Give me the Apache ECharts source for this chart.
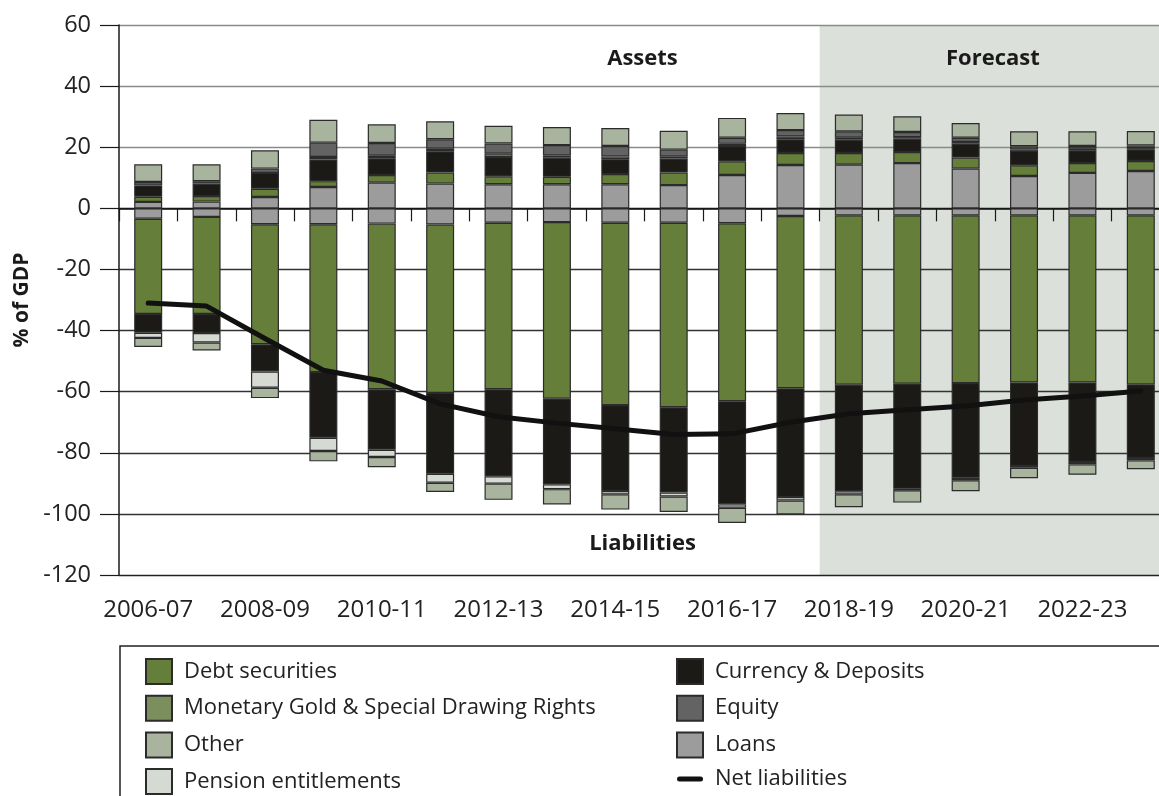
<!DOCTYPE html>
<html><head><meta charset="utf-8">
<script src="https://cdn.jsdelivr.net/npm/echarts@6/dist/echarts.min.js"></script>
<style>html,body{margin:0;padding:0;background:#fff;overflow:hidden}#c{width:1170px;height:796px}</style>
</head><body><div id="c"></div>
<script>
// ---------- data ----------
const categories = ['2006-07','2007-08','2008-09','2009-10','2010-11','2011-12','2012-13','2013-14','2014-15','2015-16','2016-17','2017-18','2018-19','2019-20','2020-21','2021-22','2022-23','2023-24'];
const forecastStart = '2018-19';
const yMin = -120, yMax = 60, yInterval = 20;

// Assets (positive)
const loansAssets    = [2.1, 2.2, 3.7, 7.0, 8.4, 8.1, 7.9, 7.9, 7.9, 7.6, 10.9, 14.2, 14.3, 14.8, 13.0, 10.6, 11.6, 12.2];
const debtAssets     = [1.7, 1.8, 2.7, 1.9, 2.5, 3.6, 2.6, 2.4, 3.3, 4.1, 4.5, 3.9, 3.8, 3.6, 3.6, 3.5, 3.2, 3.3];
const currencyAssets = [3.7, 4.1, 5.2, 7.1, 5.5, 7.0, 6.3, 6.3, 4.9, 4.6, 5.0, 4.5, 4.4, 4.4, 4.6, 4.7, 4.2, 3.8];
const goldAssets     = [null, null, null, 0.8, 0.8, 0.8, 1.1, 0.7, 0.9, 0.7, 0.7, 0.9, 0.6, 0.5, 0.5, 0.5, 0.5, 0.4];
const equityAssets   = [1.1, 0.8, 1.4, 4.7, 4.2, 3.1, 3.3, 3.4, 3.4, 2.2, 2.0, 2.1, 2.1, 1.7, 1.4, 1.0, 0.9, 0.9];
const otherAssets    = [5.8, 5.5, 6.0, 7.5, 6.1, 5.9, 5.8, 5.9, 5.9, 6.2, 6.5, 5.6, 5.5, 5.1, 4.8, 4.9, 4.8, 4.7];

// Liabilities (negative)
const loansLiab    = [-3.4, -2.8, -5.2, -5.2, -5.0, -5.3, -4.7, -4.5, -4.7, -4.7, -4.9, -2.5, -2.3, -2.3, -2.3, -2.3, -2.3, -2.3];
const debtLiab     = [-31.2, -31.8, -39.3, -48.4, -54.2, -55.1, -54.5, -57.8, -59.7, -60.4, -58.2, -56.4, -55.4, -55.1, -54.9, -54.7, -54.7, -55.3];
const currencyLiab = [-6.1, -6.2, -8.9, -21.5, -19.8, -26.5, -28.5, -28.0, -28.1, -27.9, -33.8, -35.6, -34.9, -34.4, -31.0, -27.3, -26.0, -24.1];
const pensionLiab  = [-1.7, -3.1, -5.3, -4.3, -2.4, -2.9, -2.4, -1.6, -1.1, -1.3, -1.1, -1.1, -1.0, -0.5, -0.8, -0.6, -0.8, -0.8];
const otherLiab    = [-3.0, -2.6, -3.4, -3.4, -3.3, -3.0, -5.3, -5.0, -5.0, -5.1, -5.0, -4.6, -4.2, -4.0, -3.6, -3.4, -3.4, -2.9];

const netLiabilities = [-31.0, -32.0, -42.6, -53.0, -56.5, -64.0, -68.2, -70.3, -72.1, -74.0, -73.8, -70.0, -67.2, -65.9, -64.7, -62.7, -61.4, -59.8];

// ---------- styles ----------
const FONT = '"Open Sans", "Noto Sans", sans-serif';
const C = {
  debt: '#657e39', gold: '#7b8f5e', other: '#a8b49d', pension: '#d5dad3',
  currency: '#1b1a17', equity: '#636363', loans: '#9c9c9c', net: '#111111'
};
const N = {
  debt: 'Debt securities', gold: 'Monetary Gold & Special Drawing Rights', other: 'Other',
  pension: 'Pension entitlements', currency: 'Currency & Deposits', equity: 'Equity',
  loans: 'Loans', net: 'Net liabilities'
};

function bar(key, data) {
  return {
    type: 'bar', name: N[key], stack: 'bal', data: data, barWidth: 28,
    itemStyle: { color: C[key], borderColor: '#2b2b2b', borderWidth: 1.2 },
    emphasis: { disabled: true }, z: 3
  };
}

const legendBase = {
  orient: 'vertical', top: 658, itemWidth: 26, itemHeight: 25, itemGap: 9.7,
  padding: 0, height: 200, icon: 'rect', selectedMode: false,
  textStyle: { fontSize: 22, fontFamily: FONT, color: '#222', padding: [0, 0, 0, 7] }
};

const chart = echarts.init(document.getElementById('c'), null, { renderer: 'canvas' });
const option = {
  animation: false,
  backgroundColor: '#ffffff',
  grid: { left: 119, right: 0, top: 25, bottom: 221, containLabel: false },
  xAxis: {
    type: 'category', data: categories, boundaryGap: true,
    axisLine: { show: true, lineStyle: { color: '#1a1a1a', width: 1.5 } },
    axisTick: { show: true, interval: 0, length: 13, lineStyle: { color: '#1a1a1a', width: 1.2 } },
    axisLabel: { interval: 1, margin: 23, fontSize: 24, fontFamily: FONT, color: '#222' },
    splitLine: { show: false }
  },
  yAxis: {
    type: 'value', min: yMin, max: yMax, interval: yInterval,
    axisLine: { show: true, lineStyle: { color: '#1a1a1a', width: 1.5 } },
    axisTick: { show: true, length: 19, lineStyle: { color: '#1a1a1a', width: 1.2 } },
    axisLabel: { margin: 28, fontSize: 23.5, fontFamily: FONT, color: '#222' },
    splitLine: { show: true, lineStyle: { width: 1.3, color: ['#222', '#333', '#333', '#333', '#333', '#333', '#111', '#8a8a8a', '#8a8a8a', '#8a8a8a'] } }
  },
  legend: [
    Object.assign({}, legendBase, { left: 145, data: [N.debt, N.gold, N.other, N.pension] }),
    Object.assign({}, legendBase, { left: 676, data: [N.currency, N.equity, N.loans,
      { name: N.net, icon: 'path://M2.5 0H23.5A2.5 2.5 0 0 1 23.5 5H2.5A2.5 2.5 0 0 1 2.5 0Z', itemStyle: { color: '#111', borderWidth: 0 } }] })
  ],
  series: [
    bar('loans', loansAssets),
    bar('loans', loansLiab),
    bar('debt', debtAssets),
    bar('debt', debtLiab),
    bar('currency', currencyAssets),
    bar('currency', currencyLiab),
    bar('gold', goldAssets),
    bar('equity', equityAssets),
    bar('pension', pensionLiab),
    bar('other', otherAssets),
    bar('other', otherLiab),
    {
      type: 'line', name: N.net, data: netLiabilities, symbol: 'none', showSymbol: false,
      lineStyle: { color: C.net, width: 5, cap: 'round', join: 'round' },
      itemStyle: { color: C.net }, z: 5, emphasis: { disabled: true }
    }
  ]
};
chart.setOption(option);

// Forecast shading and annotations placed from the axes' own scales
const c0 = chart.convertToPixel({ xAxisIndex: 0 }, categories[0]);
const c1 = chart.convertToPixel({ xAxisIndex: 0 }, categories[1]);
const half = (c1 - c0) / 2;
const fx = chart.convertToPixel({ xAxisIndex: 0 }, forecastStart) - half;
const fxEnd = chart.convertToPixel({ xAxisIndex: 0 }, categories[categories.length - 1]) + half;
const yTop = chart.convertToPixel({ yAxisIndex: 0 }, yMax);
const yBot = chart.convertToPixel({ yAxisIndex: 0 }, yMin);
const midX = chart.convertToPixel({ xAxisIndex: 0 }, categories[9]) - half;

chart.setOption({
  graphic: [
    { type: 'rect', z: -10, silent: true, shape: { x: fx, y: yTop, width: fxEnd - fx, height: yBot - yTop }, style: { fill: '#dbe0da' } },
    { type: 'text', z: 10, x: midX - 2, y: 59, style: { text: 'Assets', font: 'bold 22px ' + FONT, fill: '#1a1a1a', align: 'center', verticalAlign: 'middle' } },
    { type: 'text', z: 10, x: (fx + 1166) / 2, y: 59, style: { text: 'Forecast', font: 'bold 22px ' + FONT, fill: '#1a1a1a', align: 'center', verticalAlign: 'middle' } },
    { type: 'text', z: 10, x: midX - 2, y: 544, style: { text: 'Liabilities', font: 'bold 22px ' + FONT, fill: '#1a1a1a', align: 'center', verticalAlign: 'middle' } },
    { type: 'text', z: 10, x: 22, y: 300, rotation: Math.PI / 2, style: { text: '% of GDP', font: 'bold 21px ' + FONT, fill: '#1a1a1a', align: 'center', verticalAlign: 'middle' } },
    { type: 'rect', z: 10, silent: true, shape: { x: 120, y: 646, width: 1060, height: 200 }, style: { fill: 'none', stroke: '#222', lineWidth: 1.5 } }
  ]
});
</script>
</body></html>
